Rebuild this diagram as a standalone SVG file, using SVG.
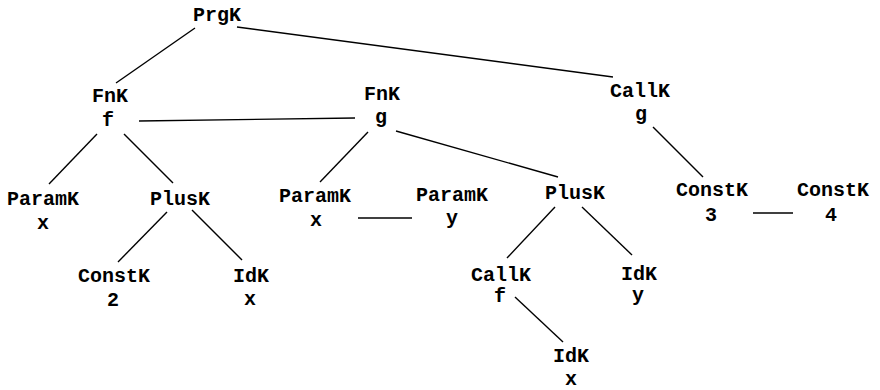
<svg xmlns="http://www.w3.org/2000/svg" width="880" height="390" viewBox="0 0 880 390">
<style>
text{font-family:"Liberation Mono","Courier New",monospace;font-weight:bold;font-size:20px;fill:#000;text-anchor:middle}
.c line{stroke:#000;stroke-width:1.4;fill:none}
</style>
<rect width="880" height="390" fill="#fff"/>
<g class="c" id="connectors">
<line x1="195" y1="28" x2="116" y2="83"/>
<line x1="237" y1="27" x2="613" y2="77"/>
<line x1="139" y1="121" x2="355" y2="118"/>
<line x1="97" y1="134" x2="49" y2="184"/>
<line x1="124" y1="134" x2="173" y2="183"/>
<line x1="368" y1="132" x2="320" y2="182"/>
<line x1="396" y1="131" x2="558" y2="177"/>
<line x1="653" y1="127" x2="703" y2="177"/>
<line x1="167" y1="212" x2="118" y2="262"/>
<line x1="192" y1="210" x2="242" y2="260"/>
<line x1="358" y1="218" x2="412" y2="218"/>
<line x1="555" y1="207" x2="507" y2="258"/>
<line x1="582" y1="207" x2="632" y2="255"/>
<line x1="753" y1="213" x2="793" y2="213"/>
<line x1="515" y1="297" x2="563" y2="342"/>
</g>
<g id="prgk"><text x="217" y="21">PrgK</text></g>
<g id="fnk-f"><text x="110" y="102">FnK</text><text x="108" y="126">f</text></g>
<g id="fnk-g"><text x="382" y="100">FnK</text><text x="381" y="123">g</text></g>
<g id="callk-g"><text x="640" y="97">CallK</text><text x="641" y="120">g</text></g>
<g id="paramk-x1"><text x="43" y="205">ParamK</text><text x="43" y="229">x</text></g>
<g id="plusk-1"><text x="180" y="205">PlusK</text></g>
<g id="paramk-x2"><text x="315" y="202">ParamK</text><text x="316" y="226">x</text></g>
<g id="paramk-y"><text x="452" y="201">ParamK</text><text x="452" y="224">y</text></g>
<g id="plusk-2"><text x="575" y="199">PlusK</text></g>
<g id="constk-3"><text x="712" y="196">ConstK</text><text x="711" y="221">3</text></g>
<g id="constk-4"><text x="833" y="196">ConstK</text><text x="831" y="221">4</text></g>
<g id="constk-2"><text x="114" y="282">ConstK</text><text x="113" y="306">2</text></g>
<g id="idk-x1"><text x="251" y="282">IdK</text><text x="250" y="305">x</text></g>
<g id="callk-f"><text x="501" y="281">CallK</text><text x="500" y="302">f</text></g>
<g id="idk-y"><text x="639" y="280">IdK</text><text x="638" y="301">y</text></g>
<g id="idk-x2"><text x="571" y="362">IdK</text><text x="571" y="385">x</text></g>
</svg>
